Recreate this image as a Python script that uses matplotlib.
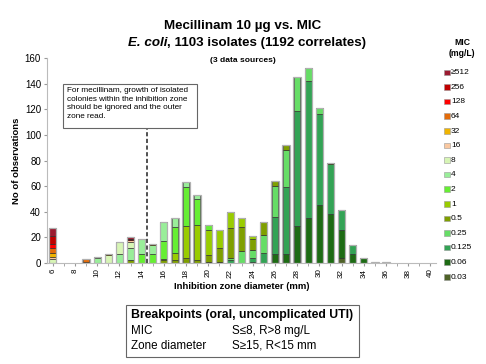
import matplotlib
matplotlib.use("Agg")
import matplotlib.pyplot as plt
from matplotlib.patches import Rectangle

plt.rcParams['font.family'] = ['Liberation Sans', 'DejaVu Sans']

# inhibition zone diameters that have bars (mm)
zones = [6, 9, 10, 11, 12, 13, 14, 15, 16, 17, 18, 19, 20, 21, 22, 23, 24, 25, 26, 27, 28, 29, 30, 31, 32, 33, 34, 35, 36]

# counts per MIC level (mg/L), aligned with zones, stacked low MIC at the bottom
mic_003 = [0, 0, 0, 0, 0, 0, 0, 0, 0, 0, 0, 0, 0, 0, 0, 0, 0, 0, 0, 0, 0, 0, 0, 0, 4, 0, 0, 0, 1]
mic_006 = [0, 0, 0, 0, 0, 0, 0, 0, 0, 0, 0, 0, 1, 1, 0, 0, 1, 0, 7, 7, 29, 35, 45, 38, 22, 7, 4, 1, 0]
mic_0125 = [0, 0, 0, 0, 0, 0, 0, 0, 0, 0, 0, 0, 0, 0, 2, 0, 3, 8, 29, 52, 90, 107, 71, 39, 15, 7, 0, 0, 0]
mic_025 = [0, 0, 0, 0, 0, 0, 0, 0, 0, 0, 0, 0, 0, 0, 2, 9, 6, 14, 24, 29, 26, 10, 5, 0, 0, 0, 0, 0, 0]
mic_05 = [0, 0, 0, 0, 0, 2, 0, 0, 2, 2, 4, 2, 5, 11, 23, 19, 9, 10, 4, 4, 0, 0, 0, 1, 0, 0, 0, 0, 0]
mic_1 = [0, 0, 0, 0, 0, 0, 0, 0, 1, 6, 25, 28, 20, 14, 13, 7, 2, 0, 0, 0, 0, 0, 0, 0, 0, 0, 0, 0, 0]
mic_2 = [0, 0, 0, 0, 0, 0, 7, 7, 14, 20, 30, 20, 4, 0, 0, 0, 0, 0, 0, 0, 0, 0, 0, 0, 0, 0, 0, 0, 0]
mic_4 = [0, 0, 4, 0, 7, 10, 12, 7, 15, 7, 4, 3, 0, 0, 0, 0, 0, 0, 0, 0, 0, 0, 0, 0, 0, 0, 0, 0, 0]
mic_8 = [3, 0, 1, 6, 9, 4, 0, 0, 0, 0, 0, 0, 0, 0, 0, 0, 0, 0, 0, 0, 0, 0, 0, 0, 0, 0, 0, 0, 0]
mic_16 = [2, 0, 0, 0, 0, 2, 0, 0, 0, 0, 0, 0, 0, 0, 0, 0, 0, 0, 0, 0, 0, 0, 0, 0, 0, 0, 0, 0, 0]
mic_32 = [3, 1, 0, 1, 0, 0, 0, 1, 0, 0, 0, 0, 0, 0, 0, 0, 0, 0, 0, 0, 0, 0, 0, 0, 0, 0, 0, 0, 0]
mic_64 = [4, 2, 0, 0, 0, 0, 0, 0, 0, 0, 0, 0, 0, 0, 0, 0, 0, 0, 0, 0, 0, 0, 0, 0, 0, 0, 0, 0, 0]
mic_128 = [3, 0, 0, 0, 0, 1, 0, 0, 0, 0, 0, 0, 0, 0, 0, 0, 0, 0, 0, 0, 0, 0, 0, 0, 0, 0, 0, 0, 0]
mic_256 = [6, 0, 0, 0, 0, 0, 0, 0, 0, 0, 0, 0, 0, 0, 0, 0, 0, 0, 0, 0, 0, 0, 0, 0, 0, 0, 0, 0, 0]
mic_512 = [6, 0, 0, 0, 0, 1, 0, 0, 0, 0, 0, 0, 0, 0, 0, 0, 0, 0, 0, 0, 0, 0, 0, 0, 0, 0, 0, 0, 0]

mic_labels = ['0.03', '0.06', '0.125', '0.25', '0.5', '1', '2', '4', '8', '16', '32', '64', '128', '256', '\u2265512']
mic_series = [mic_003, mic_006, mic_0125, mic_025, mic_05, mic_1, mic_2, mic_4, mic_8,
              mic_16, mic_32, mic_64, mic_128, mic_256, mic_512]
colors = ['#4F6228', '#1D6B14', '#33A355', '#66DD66', '#7F9F00', '#99CC00', '#66EE33',
          '#99EE99', '#D7F5B5', '#FAC8A0', '#F0B400', '#E46C0A', '#FF0000', '#C00000', '#9B1B30']

fig = plt.figure(figsize=(4.86, 3.64), dpi=100)
ax = fig.add_axes([0.0971, 0.2775, 0.800, 0.563])

bottoms = [0] * len(zones)
for vals, col in zip(mic_series, colors):
    ax.bar(zones, vals, width=0.6, bottom=bottoms, color=col,
           edgecolor='#2a2a2a', linewidth=0.45, zorder=3)
    bottoms = [b + v for b, v in zip(bottoms, vals)]
# light outline around each full bar
ax.bar(zones, bottoms, width=0.66, fill=False, edgecolor='#b0b0b0', linewidth=0.9, zorder=4)

ax.set_xlim(5.5, 40.5)
ax.set_ylim(0, 160)
ax.set_xticks(range(6, 41, 2))
ax.set_xticks(range(6, 41), minor=True)
ax.set_yticks(range(0, 161, 20))
ax.tick_params(axis='x', labelrotation=90, labelsize=5.8, length=2, color='#999999', pad=2)
ax.tick_params(axis='x', which='minor', length=2, color='#999999')
ax.tick_params(axis='y', labelsize=7, length=2.5, color='#999999', pad=2)
for s in ['top', 'right']:
    ax.spines[s].set_visible(False)
for s in ['left', 'bottom']:
    ax.spines[s].set_color('#bbbbbb')
    ax.spines[s].set_linewidth(0.8)

ax.set_xlabel('Inhibition zone diameter (mm)', fontsize=6.8, fontweight='bold', labelpad=3)
ax.set_ylabel('No of observations', fontsize=6.8, fontweight='bold', labelpad=3)

# breakpoint line and note
ax.plot([14.5, 14.5], [0, 105], linestyle=(0, (2.5, 1.5)), color='#333333', linewidth=1.2, zorder=5)
fig.patches.append(Rectangle((63 / 486, 1 - 128 / 364), 134 / 486, 44 / 364,
                             transform=fig.transFigure, facecolor='white',
                             edgecolor='#666666', linewidth=0.8, zorder=6))
fig.text(67 / 486, 1 - 87 / 364, 'For mecillinam, growth of isolated\ncolonies within the inhibition zone\n'
         'should be ignored and the outer\nzone read.', fontsize=5.9, va='top', ha='left',
         linespacing=1.32, zorder=7)

# titles
fig.text(0.5, 0.928, 'Mecillinam 10 \u00b5g vs. MIC', ha='center', va='center', fontsize=9.6, fontweight='bold')
fig.text(167 / 486, 0.883, 'E. coli', ha='right', va='center', fontsize=9.6,
         fontweight='bold', fontstyle='italic')
fig.text(167 / 486, 0.883, ', 1103 isolates (1192 correlates)', ha='left', va='center',
         fontsize=9.6, fontweight='bold')
fig.text(0.5, 0.833, '(3 data sources)', ha='center', va='center', fontsize=6.1, fontweight='bold')

# MIC legend
fig.text(0.951, 0.868, 'MIC\n(mg/L)', ha='center', va='center', fontsize=6.2, fontweight='bold', linespacing=1.3)
y0 = 1 - 72.7 / 364
dy = 14.6 / 364
for i, (lab, col) in enumerate(zip(mic_labels[::-1], colors[::-1])):
    yc = y0 - i * dy
    fig.patches.append(Rectangle((444 / 486, yc - 2.5 / 364), 5.5 / 486, 5.5 / 364,
                                 transform=fig.transFigure, facecolor=col,
                                 edgecolor='#999999', linewidth=0.4))
    fig.text(451 / 486, yc, lab, ha='left', va='center', fontsize=6)

# breakpoints box
fig.patches.append(Rectangle((126 / 486, 1 - 357 / 364), 233 / 486, 52 / 364,
                             transform=fig.transFigure, facecolor='white',
                             edgecolor='#666666', linewidth=0.8))
fig.text(131 / 486, 1 - 315 / 364, 'Breakpoints (oral, uncomplicated UTI)', ha='left', va='center',
         fontsize=8.8, fontweight='bold')
fig.text(131 / 486, 1 - 331 / 364, 'MIC', ha='left', va='center', fontsize=8.4)
fig.text(232 / 486, 1 - 331 / 364, 'S\u22648, R>8 mg/L', ha='left', va='center', fontsize=8.4)
fig.text(131 / 486, 1 - 346 / 364, 'Zone diameter', ha='left', va='center', fontsize=8.4)
fig.text(232 / 486, 1 - 346 / 364, 'S\u226515, R<15 mm', ha='left', va='center', fontsize=8.4)

fig.savefig('out.png', dpi=100)
